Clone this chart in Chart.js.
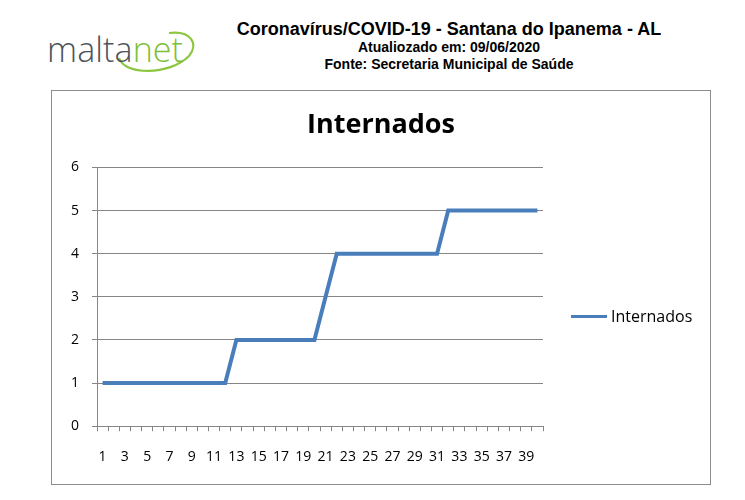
<!DOCTYPE html>
<html lang="pt">
<head>
  <meta charset="UTF-8">
  <title>Internados - Santana do Ipanema</title>
  <script src="https://cdn.jsdelivr.net/npm/chart.js@4.4.0/dist/chart.umd.js"></script>
  <style>
    body {
      margin: 0;
      background: #fff;
      width: 745px;
      height: 500px;
      position: relative;
      overflow: hidden;
    }
    .logo {
      position: absolute;
      left: 39px;
      top: 20px;
    }
    .header {
      position: absolute;
      left: 150px;
      width: 598px;
      top: 19px;
      text-align: center;
      font-family: "Liberation Sans", Arial, sans-serif;
      font-weight: bold;
      color: #000;
    }
    .header .t1 { font-size: 18px; line-height: 20px; }
    .header .t2 { font-size: 14px; line-height: 17px; }
    .box {
      position: absolute;
      left: 51px;
      top: 90px;
      width: 658px;
      height: 393px;
      border: 1px solid #8c8c8c;
    }
    .legend {
      position: absolute;
      left: 571px;
      top: 305px;
      height: 22px;
      display: flex;
      align-items: center;
      font-family: "Open Sans", "DejaVu Sans", sans-serif;
      font-size: 16px;
      color: #000;
    }
    .legend .swatch {
      display: inline-block;
      width: 36px;
      height: 3px;
      background: #4a7ebb;
      margin-right: 4px;
    }
  </style>
</head>
<body>
  <svg class="logo" width="170" height="60" viewBox="0 0 170 60">
    <path d="M80 38 C85 55 130 56 150 36 C160 24 152 10 130 13" fill="none" stroke="#8cc63f" stroke-width="2.2"/>
    <text x="8" y="42" font-family="Open Sans, sans-serif" font-weight="300" font-size="34" fill="#4d535b" letter-spacing="0.1">malta<tspan fill="#7dbf3a">net</tspan></text>
  </svg>

  <div class="header">
    <div class="t1">Coronavírus/COVID-19 - Santana do Ipanema - AL</div>
    <div class="t2">Atualiozado em: 09/06/2020</div>
    <div class="t2">Fonte: Secretaria Municipal de Saúde</div>
  </div>

  <div class="box">
    <canvas id="chart" width="658" height="393"></canvas>
  </div>

  <div class="legend"><span class="swatch"></span>Internados</div>

  <script>
    const days = [];
    for (let d = 1; d <= 40; d++) days.push(String(d));

    const internados = [
      1, 1, 1, 1, 1, 1, 1, 1, 1, 1, 1, 1,
      2, 2, 2, 2, 2, 2, 2, 2,
      3,
      4, 4, 4, 4, 4, 4, 4, 4, 4, 4,
      5, 5, 5, 5, 5, 5, 5, 5, 5
    ];

    const yTicks = [0, 1, 2, 3, 4, 5, 6];

    const font = "'Open Sans', 'DejaVu Sans', sans-serif";
    const gridGray = '#868686';

    new Chart(document.getElementById('chart'), {
      type: 'line',
      data: {
        labels: days,
        datasets: [{
          label: 'Internados',
          data: internados,
          borderColor: '#4a7ebb',
          backgroundColor: '#4a7ebb',
          borderWidth: 4,
          pointRadius: 0,
          tension: 0
        }]
      },
      options: {
        responsive: false,
        animation: false,
        layout: { padding: { left: 0, right: 0, top: 0, bottom: 2 } },
        plugins: {
          title: {
            display: true,
            text: 'Internados',
            color: '#000',
            font: { family: font, size: 27, weight: 'bold' },
            padding: { top: 18, bottom: 26 }
          },
          legend: { display: false },
          tooltip: { enabled: false }
        },
        scales: {
          x: {
            offset: true,
            grid: {
              display: true,
              drawOnChartArea: false,
              offset: true,
              tickLength: 5,
              color: gridGray
            },
            border: { color: gridGray, width: 1 },
            ticks: {
              autoSkip: false,
              maxRotation: 0,
              color: '#000',
              font: { family: font, size: 14 },
              padding: 17,
              callback: function (v, i) { return i % 2 === 0 ? this.getLabelForValue(v) : ''; }
            }
          },
          y: {
            min: yTicks[0],
            max: yTicks[yTicks.length - 1],
            afterBuildTicks: s => { s.ticks = yTicks.map(v => ({ value: v })); },
            afterFit: s => { s.width = 45; },
            grid: {
              color: gridGray,
              tickLength: 5
            },
            border: { color: gridGray, width: 1 },
            ticks: {
              color: '#000',
              font: { family: font, size: 14 },
              padding: 13
            }
          },
          // empty right-hand space reserved for the legend
          legendSpace: {
            type: 'linear',
            position: 'right',
            afterFit: s => { s.width = 167; },
            grid: { display: false },
            border: { display: false },
            ticks: { display: false }
          }
        }
      }
    });
  </script>
</body>
</html>
